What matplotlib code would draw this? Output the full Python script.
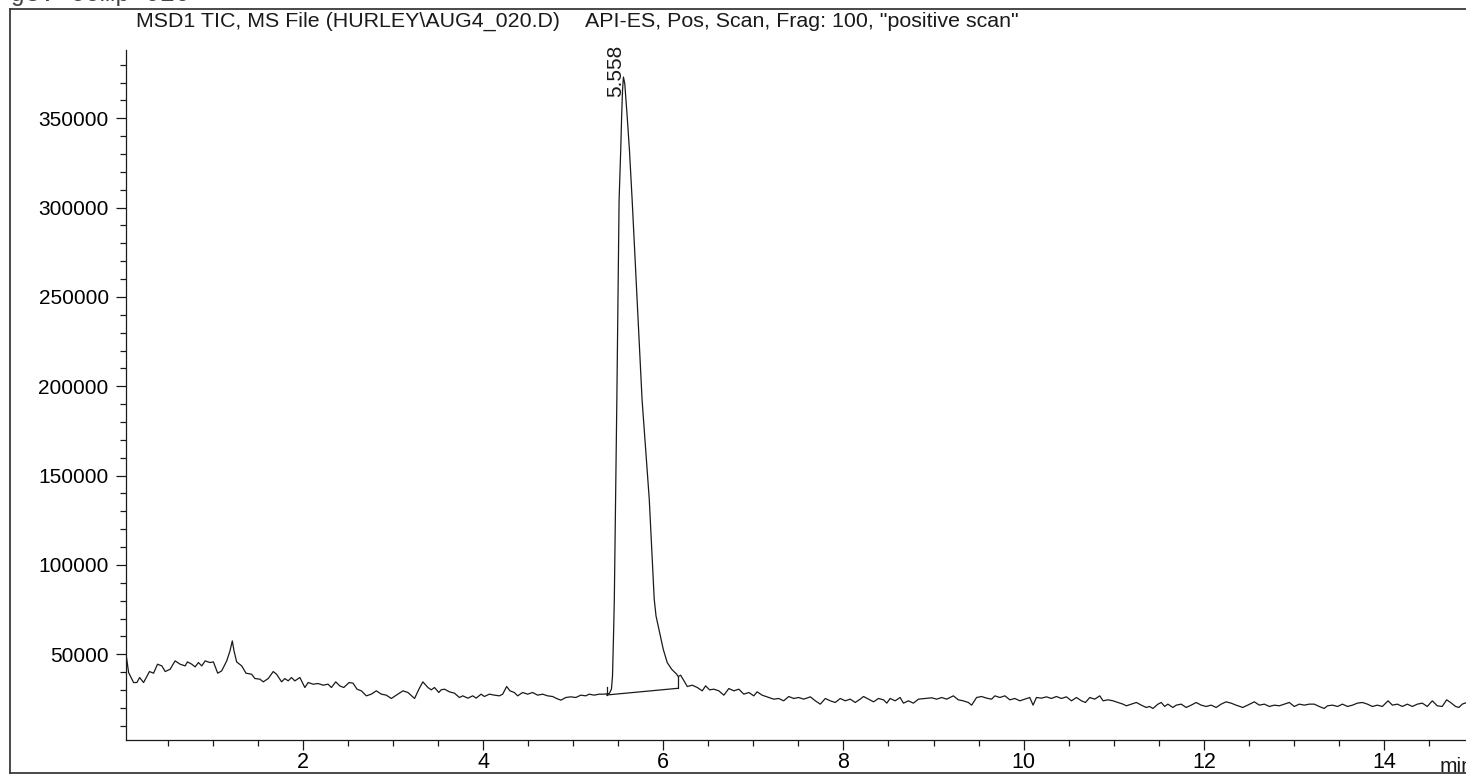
import matplotlib
matplotlib.use("Agg")
import matplotlib.pyplot as plt
from matplotlib.lines import Line2D
from matplotlib.ticker import MultipleLocator, FixedLocator, FuncFormatter

plt.rcParams['font.family'] = ['Liberation Sans', 'DejaVu Sans']

# Total ion chromatogram: retention time (min) and abundance (counts)
time_min = [
    0.040, 0.066, 0.121, 0.158, 0.188, 0.232, 0.298, 0.343, 0.387, 0.435,
    0.472, 0.527, 0.582, 0.638, 0.693, 0.719, 0.767, 0.804, 0.841, 0.878,
    0.915, 0.970, 1.007, 1.055, 1.099, 1.155, 1.191, 1.217, 1.236, 1.265,
    1.321, 1.369, 1.431, 1.468, 1.524, 1.560, 1.616, 1.671, 1.708, 1.764,
    1.800, 1.837, 1.874, 1.911, 1.967, 2.022, 2.059, 2.114, 2.169, 2.225,
    2.280, 2.317, 2.365, 2.409, 2.454, 2.513, 2.557, 2.601, 2.649, 2.705,
    2.760, 2.815, 2.871, 2.926, 2.982, 3.037, 3.111, 3.166, 3.240, 3.288,
    3.332, 3.388, 3.425, 3.461, 3.509, 3.535, 3.572, 3.627, 3.683, 3.738,
    3.775, 3.831, 3.886, 3.923, 3.978, 4.015, 4.070, 4.126, 4.181, 4.218,
    4.262, 4.299, 4.347, 4.384, 4.440, 4.495, 4.550, 4.606, 4.661, 4.716,
    4.772, 4.816, 4.864, 4.919, 4.975, 5.030, 5.085, 5.141, 5.178, 5.233,
    5.289, 5.344,
    # main peak
    5.401, 5.425, 5.437, 5.443, 5.449, 5.457, 5.485, 5.510, 5.528, 5.538,
    5.548, 5.558, 5.573, 5.600, 5.625, 5.655, 5.765, 5.845, 5.900, 5.920,
    5.960, 6.000, 6.044, 6.093, 6.149, 6.166,
    # tail and late baseline
    6.193, 6.230, 6.267, 6.322, 6.378, 6.433, 6.470, 6.514, 6.562, 6.617,
    6.673, 6.728, 6.784, 6.839, 6.894, 6.950, 7.005, 7.042, 7.097, 7.171,
    7.226, 7.282, 7.337, 7.393, 7.448, 7.503, 7.559, 7.633, 7.688, 7.743,
    7.799, 7.854, 7.909, 7.965, 8.020, 8.075, 8.131, 8.186, 8.223, 8.278,
    8.334, 8.389, 8.445, 8.481, 8.518, 8.574, 8.629, 8.666, 8.721, 8.777,
    8.832, 8.906, 8.980, 9.035, 9.090, 9.146, 9.220, 9.275, 9.330, 9.386,
    9.423, 9.478, 9.533, 9.589, 9.644, 9.681, 9.736, 9.792, 9.847, 9.902,
    9.958, 10.013, 10.068, 10.105, 10.142, 10.198, 10.253, 10.308, 10.364, 10.419,
    10.475, 10.531, 10.586, 10.642, 10.686, 10.734, 10.789, 10.845, 10.882, 10.937,
    10.992, 11.048, 11.103, 11.140, 11.195, 11.251, 11.306, 11.361, 11.398, 11.435,
    11.491, 11.528, 11.565, 11.601, 11.657, 11.694, 11.749, 11.804, 11.860, 11.915,
    11.971, 12.026, 12.081, 12.137, 12.192, 12.247, 12.303, 12.358, 12.432, 12.487,
    12.561, 12.616, 12.672, 12.727, 12.783, 12.838, 12.893, 12.949, 13.004, 13.059,
    13.115, 13.170, 13.225, 13.281, 13.336, 13.373, 13.428, 13.484, 13.539, 13.595,
    13.650, 13.705, 13.761, 13.816, 13.871, 13.927, 13.982, 14.045, 14.093, 14.148,
    14.204, 14.259, 14.314, 14.370, 14.425, 14.480, 14.536, 14.591, 14.646, 14.695,
    14.739, 14.794, 14.831, 14.868, 14.920,
]

abundance = [
    49070, 39760, 34170, 34170, 36970, 34170, 40320, 39390, 44420, 43480,
    40320, 41620, 46280, 44420, 43480, 45720, 44420, 42930, 45350, 43480,
    46280, 45350, 45720, 39390, 40690, 46280, 51870, 57450, 51870, 45720,
    43480, 39390, 38830, 36410, 36040, 34550, 36410, 40320, 38830, 34550,
    36410, 35100, 36970, 35100, 36970, 31380, 34170, 33240, 33620, 32680,
    33240, 31380, 34550, 32310, 31380, 34170, 33800, 30450, 29520, 26720,
    27660, 29520, 27660, 27100, 25240, 27100, 29520, 28590, 25240, 30450,
    34550, 31380, 30080, 31380, 28590, 30080, 30450, 28960, 28210, 25790,
    26720, 25420, 26720, 25420, 27660, 26350, 27660, 27100, 26720, 27660,
    31940, 29520, 28590, 26720, 28590, 27660, 28590, 27100, 27660, 26720,
    26350, 25240, 24300, 25790, 26160, 25790, 27100, 26720, 27660, 27100,
    27660, 27660,
    # main peak
    28050, 30450, 37880, 49050, 62130, 80730, 192500, 304200, 332100, 350800,
    365700, 373100, 369400, 350800, 332100, 304200, 192500, 136600, 80730, 71400,
    62130, 52800, 45370, 41620, 38830, 37530,
    # tail and late baseline
    38270, 35100, 31940, 32680, 31380, 29520, 32310, 30080, 30450, 29520,
    27100, 30820, 29520, 30450, 27660, 28590, 26720, 28960, 27100, 25790,
    24860, 25240, 23930, 26350, 25240, 25790, 24860, 26160, 23930, 22070,
    25240, 23930, 23000, 25240, 23930, 24860, 23000, 24860, 26350, 24860,
    23370, 25240, 24490, 22630, 25240, 23930, 25790, 22630, 23930, 22630,
    24860, 25240, 25610, 24860, 25790, 24860, 26720, 24490, 23930, 23000,
    21510, 25790, 26350, 25420, 24860, 26720, 25790, 26720, 24490, 25240,
    23930, 24860, 25790, 21510, 25790, 25420, 26160, 25240, 26350, 25240,
    26160, 23930, 25790, 23930, 23000, 25790, 24860, 26720, 23930, 24490,
    23930, 23000, 22070, 21140, 22070, 23000, 21510, 20210, 20770, 19650,
    22070, 23000, 20770, 22070, 20210, 21510, 22070, 20210, 21510, 23000,
    21510, 20770, 21510, 20210, 22070, 23370, 22630, 21510, 20210, 21510,
    23370, 21510, 22070, 20770, 21510, 21140, 22070, 23000, 20770, 22070,
    21510, 22070, 22070, 20770, 19650, 21140, 21510, 20770, 22070, 20770,
    21510, 22630, 23000, 22070, 20770, 21510, 20770, 23930, 21510, 22070,
    20770, 22070, 20770, 22070, 22630, 20770, 23930, 21140, 20770, 24490,
    23000, 20770, 20210, 22070, 23000,
]

# Integration baseline of the main peak (start, end)
baseline_time = [5.372, 6.166]
baseline_abund = [27200, 30950]
peak_rt = 5.558
peak_height = 373100

x_major = [2, 4, 6, 8, 10, 12, 14]
y_major = [50000, 100000, 150000, 200000, 250000, 300000, 350000]

W, H = 1466, 777
fig = plt.figure(figsize=(W / 100, H / 100), dpi=100)

ax_left, ax_right, ax_top, ax_bottom = 126, 1466, 50.4, 740.0
ax = fig.add_axes([ax_left / W, 1 - ax_bottom / H,
                   (ax_right - ax_left) / W, (ax_bottom - ax_top) / H])

ink = '#1a1a1a'
ax.plot(time_min, abundance, color=ink, lw=0.9, solid_joinstyle='round')

# baseline drop lines
ax.plot(baseline_time, baseline_abund, color=ink, lw=0.9)
ax.plot([baseline_time[0]] * 2, [baseline_abund[0], baseline_abund[0] + 4500], color=ink, lw=0.9)
ax.plot([baseline_time[1]] * 2, [baseline_abund[1], 37530], color=ink, lw=0.9)

ax.set_xlim(0.037, 14.91)
ax.set_ylim(2000, 388000)

for s in ('top', 'right'):
    ax.spines[s].set_visible(False)
for s in ('left', 'bottom'):
    ax.spines[s].set_linewidth(0.9)
    ax.spines[s].set_color(ink)

ax.xaxis.set_major_locator(FixedLocator(x_major))
ax.xaxis.set_minor_locator(MultipleLocator(0.5))
ax.yaxis.set_major_locator(FixedLocator(y_major))
ax.yaxis.set_minor_locator(MultipleLocator(10000))
ax.xaxis.set_major_formatter(FuncFormatter(lambda v, p: f"{v:g}"))
ax.yaxis.set_major_formatter(FuncFormatter(lambda v, p: f"{int(v)}"))

ax.tick_params(axis='both', which='both', direction='out', color=ink, width=0.9)
ax.tick_params(axis='y', which='major', length=7.5, pad=5, labelsize=15)
ax.tick_params(axis='y', which='minor', length=4)
ax.tick_params(axis='x', which='major', length=7.5, pad=1, labelsize=15.5)
ax.tick_params(axis='x', which='minor', length=4.5)

ax.annotate(f"{peak_rt:.3f}", xy=(peak_rt, peak_height), xytext=(-8, -20),
            textcoords='offset pixels', rotation=90, ha='center', va='bottom',
            fontsize=15, color=ink)

# header lines
fig.text(136 / W, 1 - 27 / H, r"MSD1 TIC, MS File (HURLEY\AUG4_020.D)", fontsize=15.4,
         color=ink, va='baseline', ha='left')
fig.text(585 / W, 1 - 27 / H, 'API-ES, Pos, Scan, Frag: 100, "positive scan"', fontsize=15.4,
         color=ink, va='baseline', ha='left')
fig.text(10 / W, 1 - 1 / H, "g3: Comp 020", fontsize=18, family='Liberation Mono',
         color='#444444', va='baseline', ha='left')
fig.text(1440 / W, 1 - 772 / H, "min", fontsize=15, color=ink, va='baseline', ha='left')

# page frame
frame = dict(color='#3a3a3a', lw=1.3, transform=fig.transFigure)
fig.add_artist(Line2D([10 / W, 1.0], [1 - 9 / H, 1 - 9 / H], **frame))
fig.add_artist(Line2D([10 / W, 10 / W], [1 - 9 / H, 1 - 773 / H], **frame))
fig.add_artist(Line2D([10 / W, 1.0], [1 - 773 / H, 1 - 773 / H], **frame))

fig.savefig("out.png", dpi=100)
